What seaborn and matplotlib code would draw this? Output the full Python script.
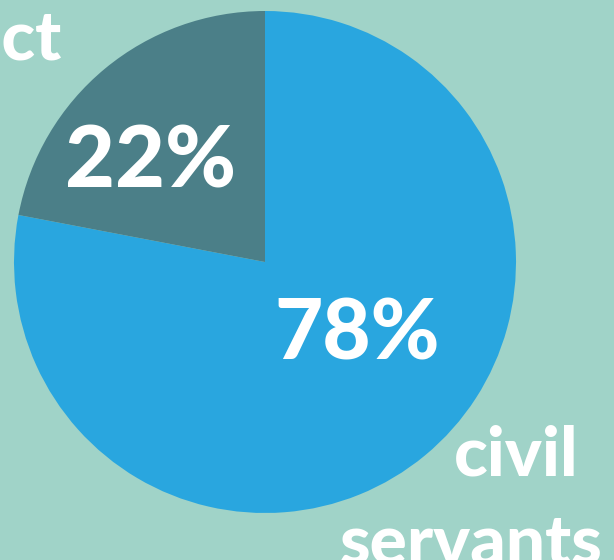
import matplotlib
matplotlib.use("Agg")
import matplotlib.pyplot as plt
import seaborn as sns

labels = ["civil servants", "contract"]
values = [78, 22]
pct_labels = ["78%", "22%"]

sns.set_theme(style="white")
plt.rcParams['font.family'] = ['Lato', 'DejaVu Sans']

bg = "#a0d3c8"
colors = ["#29a6df", "#4b7f88"]

fig = plt.figure(figsize=(6.14, 5.6), dpi=100)
fig.patch.set_facecolor(bg)
ax = fig.add_axes([0, 0, 1, 1])
ax.set_facecolor(bg)

ax.pie(values, colors=colors, startangle=90, counterclock=False,
       center=(265, 298), radius=251,
       wedgeprops=dict(linewidth=0))
ax.set_xlim(0, 614)
ax.set_ylim(0, 560)
ax.set_aspect('equal', adjustable='box')
ax.axis('off')

tk = dict(color='white', fontweight='black', ha='center', va='center')
ax.text(357, 225, pct_labels[0], fontsize=60, **tk)
ax.text(151, 397, pct_labels[1], fontsize=62, **tk)

lk = dict(color='white', fontweight='black', fontsize=50)
ax.text(62, 500, labels[1], ha='right', va='baseline', **lk)
ax.text(578, 85, "civil", ha='right', va='baseline', **lk)
ax.text(340, -3, "servants", ha='left', va='baseline', **lk)

fig.savefig("out.png", dpi=100, facecolor=bg)
